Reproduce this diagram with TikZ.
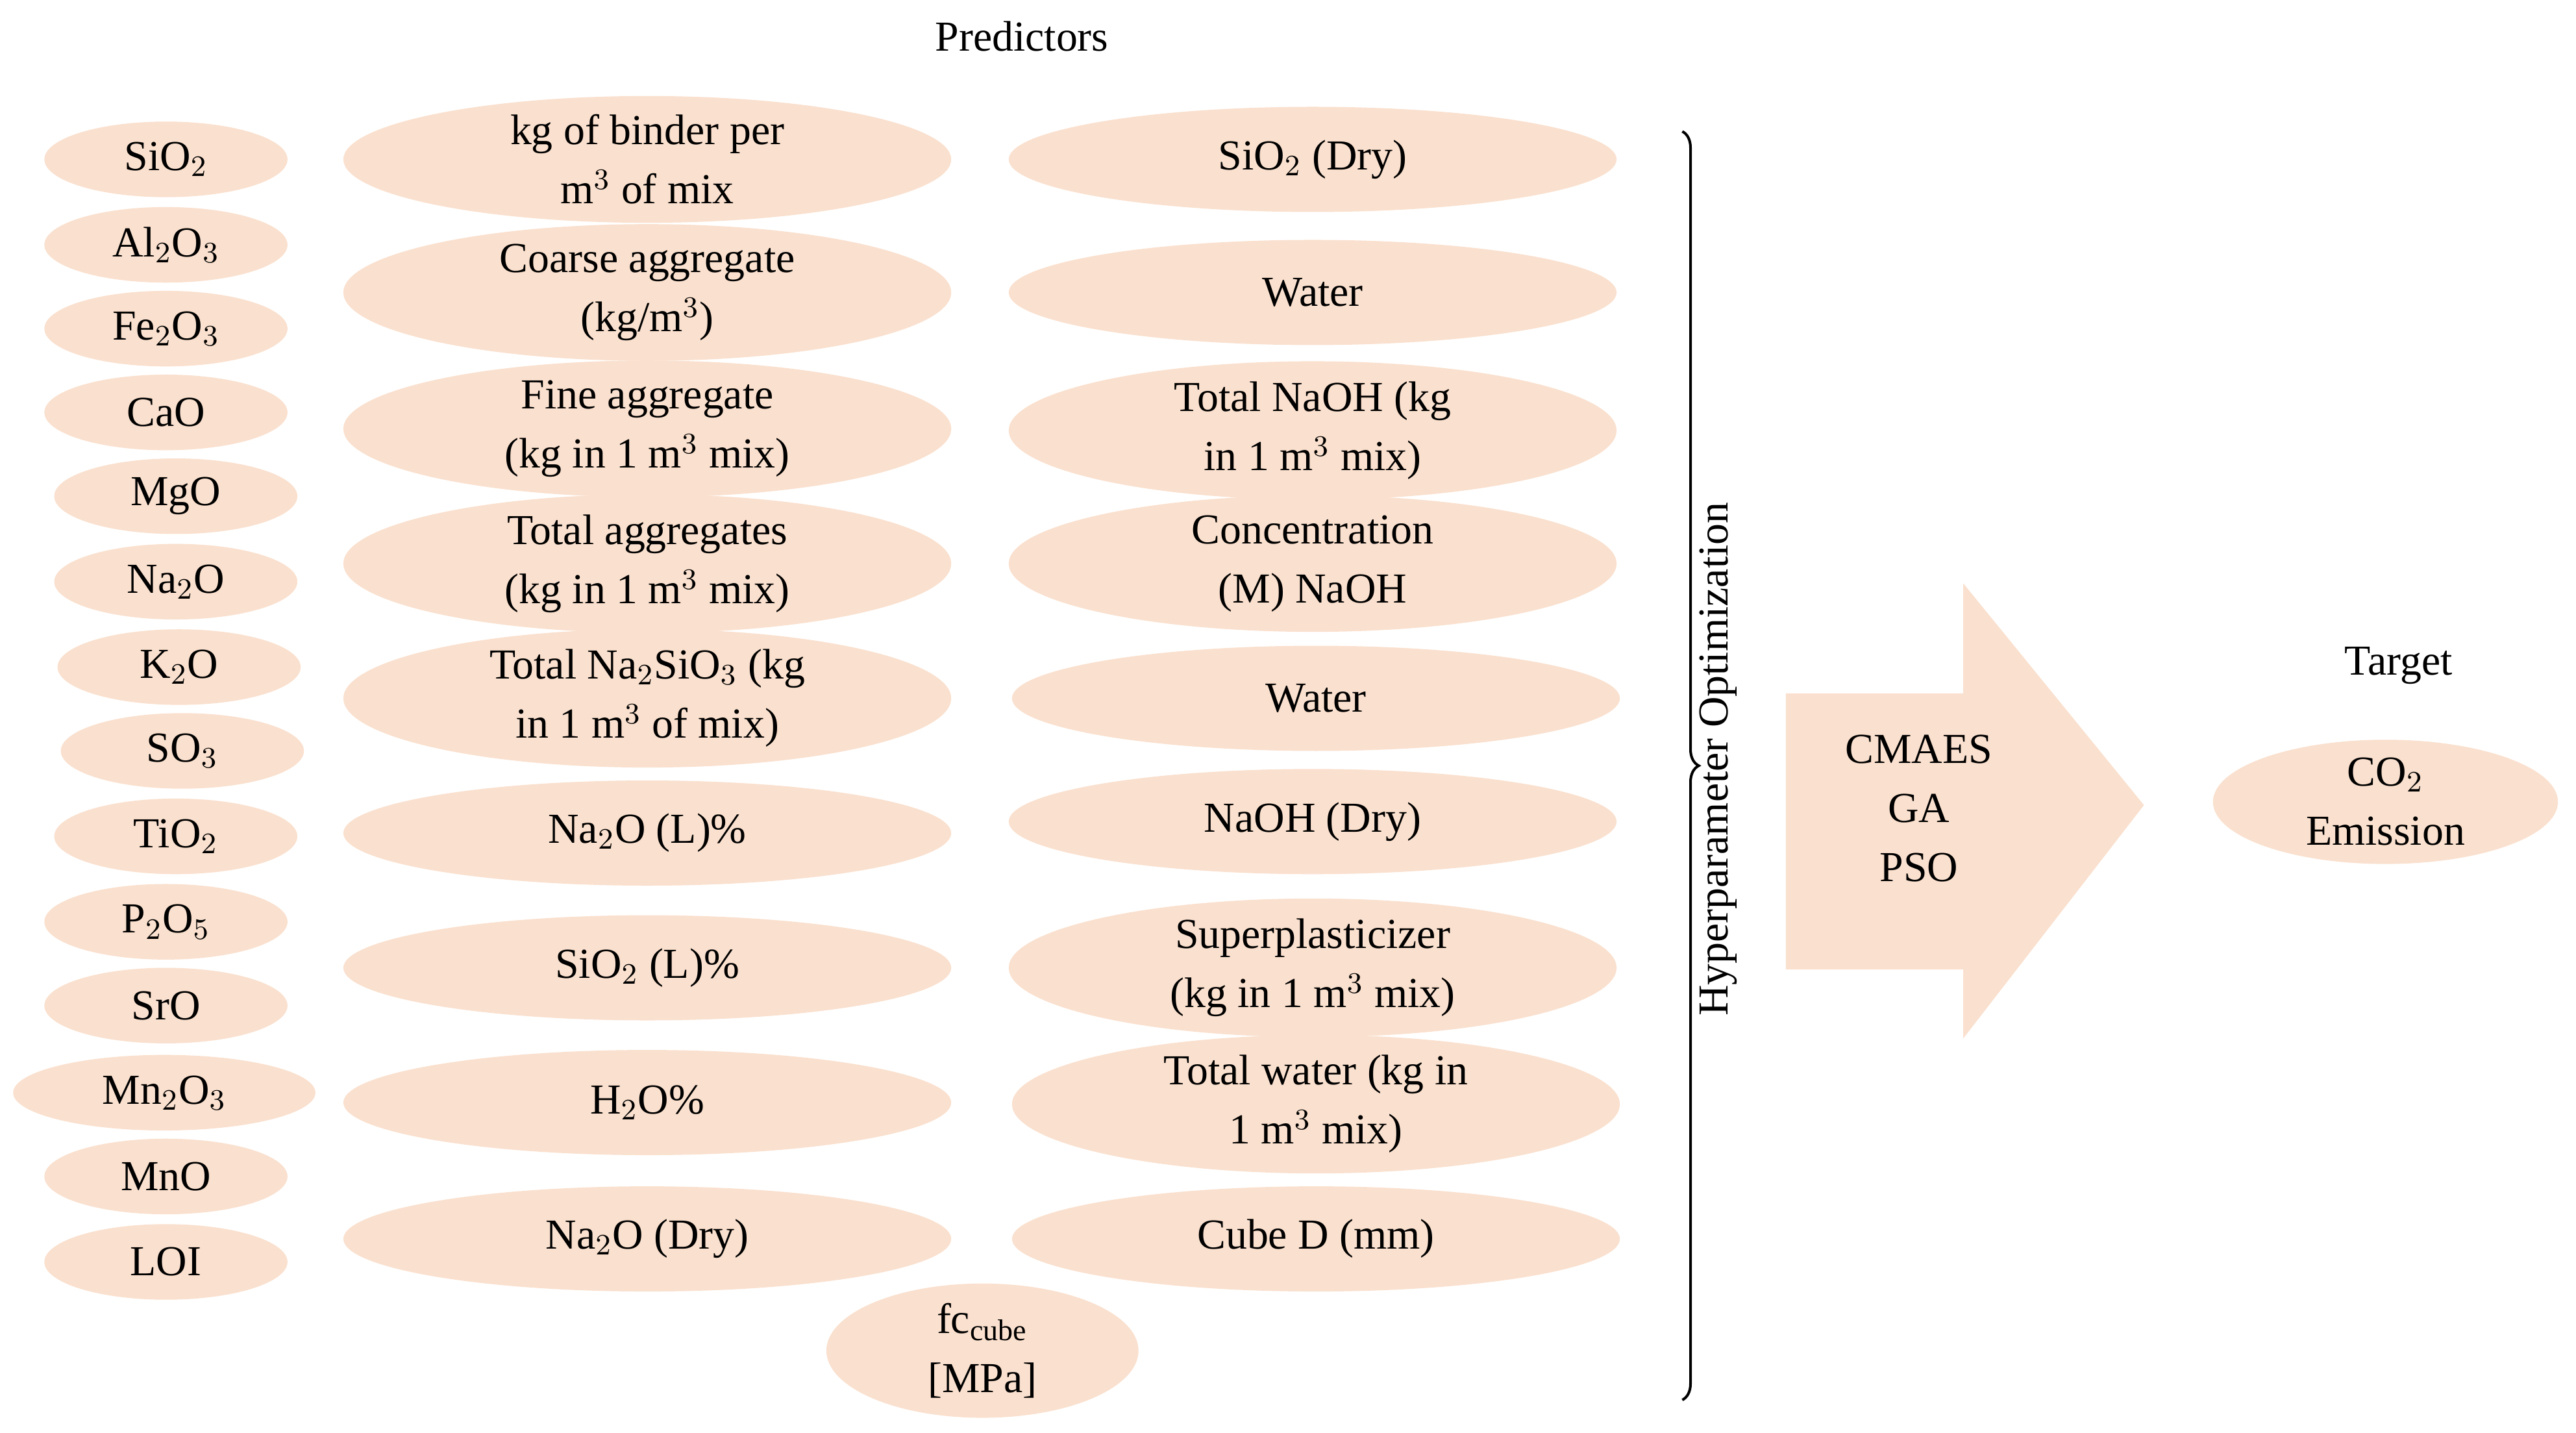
\documentclass[tikz,border=0pt]{standalone}
\usepackage{fontspec}
\setmainfont{Liberation Serif}
\usetikzlibrary{shapes.geometric,decorations.pathreplacing}
\definecolor{peach}{RGB}{250,224,206}
\begin{document}
\begin{tikzpicture}[x=0.5pt,y=-0.5pt,
  el/.style={ellipse,fill=peach,draw=none,inner sep=0pt,align=center,font=\fontsize{13}{18}\selectfont},
  sm/.style={el,minimum width=74pt,minimum height=23pt},
  big/.style={el,minimum width=185pt,minimum height=32pt},
  lab/.style={font=\fontsize{13}{18}\selectfont,align=center}]
\useasboundingbox (0,0) rectangle (1568,872);
\node[lab] (pred) at (622,22) {Predictors};
% column 1
\node[sm] (a1) at (101,97) {SiO$_2$};
\node[sm] (a2) at (101,149) {Al$_2$O$_3$};
\node[sm] (a3) at (101,200) {Fe$_2$O$_3$};
\node[sm] (a4) at (101,251) {CaO};
\node[sm] (a5) at (107,302) {MgO};
\node[sm] (a6) at (107,354) {Na$_2$O};
\node[sm] (a7) at (109,406) {K$_2$O};
\node[sm] (a8) at (111,457) {SO$_3$};
\node[sm] (a9) at (107,509) {TiO$_2$};
\node[sm] (a10) at (101,561) {P$_2$O$_5$};
\node[sm] (a11) at (101,612) {SrO};
\node[sm,minimum width=92pt] (a12) at (100,665) {Mn$_2$O$_3$};
\node[sm] (a13) at (101,716) {MnO};
\node[sm] (a14) at (101,768) {LOI};
% column 2
\node[big] (b1) at (394,97) {kg of binder per\\m$^3$ of mix};
\node[big] (b2) at (394,178) {Coarse aggregate\\(kg/m$^3$)};
\node[big] (b3) at (394,261) {Fine aggregate\\(kg in 1 m$^3$ mix)};
\node[big] (b4) at (394,343) {Total aggregates\\(kg in 1 m$^3$ mix)};
\node[big] (b5) at (394,425) {Total Na$_2$SiO$_3$ (kg\\in 1 m$^3$ of mix)};
\node[big] (b6) at (394,507) {Na$_2$O (L)\%};
\node[big] (b7) at (394,589) {SiO$_2$ (L)\%};
\node[big] (b8) at (394,671) {H$_2$O\%};
\node[big] (b9) at (394,754) {Na$_2$O (Dry)};
\node[el,minimum width=95pt,minimum height=33pt] (fc) at (598,822) {fc$_{\mathrm{cube}}$\\{[MPa]}};
% column 3
\node[big] (c1) at (799,97) {SiO$_2$ (Dry)};
\node[big] (c2) at (799,178) {Water};
\node[big] (c3) at (799,262) {Total NaOH (kg\\in 1 m$^3$ mix)};
\node[big] (c4) at (799,343) {Concentration\\(M) NaOH};
\node[big] (c5) at (801,425) {Water};
\node[big] (c6) at (799,500) {NaOH (Dry)};
\node[big] (c7) at (799,589) {Superplasticizer\\(kg in 1 m$^3$ mix)};
\node[big] (c8) at (801,672) {Total water (kg in\\1 m$^3$ mix)};
\node[big] (c9) at (801,754) {Cube D (mm)};
% brace
\coordinate (bt) at (1024,80);
\coordinate (bb) at (1024,852);
\draw[thick,decorate,decoration={brace,amplitude=5pt,raise=0pt}] (bt) -- (bb);
\node[lab,rotate=90] (hyp) at (1046,462) {Hyperparameter Optimization};
% arrow
\fill[peach] (1087,422) -- (1195,422) -- (1195,355) -- (1305,490) -- (1195,632) -- (1195,590) -- (1087,590) -- cycle;
\node[lab] (alg) at (1168,492) {CMAES\\GA\\PSO};
\node[lab] (tgt) at (1460,405) {Target};
\node[el,minimum width=105pt,minimum height=33pt] (co2) at (1452,488) {CO$_2$\\Emission};
\end{tikzpicture}
\end{document}
